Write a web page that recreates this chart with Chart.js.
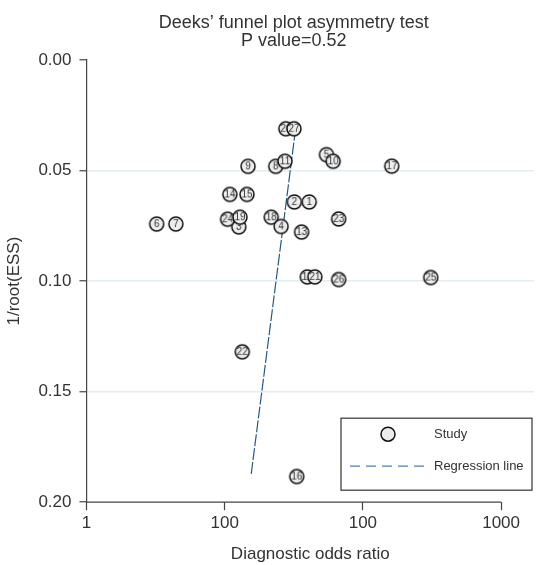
<!DOCTYPE html>
<html>
<head>
<meta charset="utf-8">
<script src="https://cdn.jsdelivr.net/npm/chart.js@4.4.1/dist/chart.umd.min.js"></script>
<style>
  html, body { margin:0; padding:0; background:#fff; }
  #wrap { width:555px; height:565px; }
</style>
</head>
<body>
<div id="wrap"><canvas id="funnel"></canvas></div>
<script>
/* ===== data (studies listed in drawing order) ===== */
const studyIds   = [1, 2, 3, 24, 18, 4, 5, 6, 7, 8, 9, 10, 11, 12, 13, 14, 15, 16, 17, 19, 20, 21, 22, 23, 25, 26, 27];
const dorValues  = [40.9, 31.9, 12.65, 10.5, 21.7, 25.6, 54.5, 3.22, 4.43, 23.4, 14.75, 60.9, 27.3, 39.6, 36.0, 10.9, 14.5, 33.2, 161.6, 12.9, 27.7, 44.9, 13.4, 66.8, 309.5, 66.8, 31.7];
const invRootEss = [0.0642, 0.0642, 0.0755, 0.0720, 0.0711, 0.0753, 0.0428, 0.0742, 0.0742, 0.0481, 0.0481, 0.0458, 0.0458, 0.0981, 0.0778, 0.0608, 0.0608, 0.1884, 0.0480, 0.0711, 0.0311, 0.0981, 0.1320, 0.0719, 0.0984, 0.0993, 0.0311];

// regression line end points
const regDor = [32.6, 15.5];
const regInvRootEss = [0.0311, 0.188];

// axis ticks (labels as printed on the original)
const xTickValues = [1, 10, 100, 1000];
const xTickLabels = ['1', '100', '100', '1000'];
const yTickValues = [0, 0.05, 0.10, 0.15, 0.20];

const titleLines = ["Deeks\u2019 funnel plot asymmetry test", 'P value=0.52'];

const FONT = '"Liberation Sans", Arial, Helvetica, sans-serif';
const TXT = '#333';
const AXIS = '#444';

// circle + number marker for each study
function makeMarker(id) {
  const c = document.createElement('canvas');
  c.width = 18; c.height = 18;
  const g = c.getContext('2d');
  g.beginPath(); g.arc(9, 9, 7, 0, Math.PI * 2);
  g.fillStyle = '#ededed'; g.fill();
  g.lineWidth = 1.5; g.strokeStyle = '#111'; g.stroke();
  g.fillStyle = TXT;
  g.font = '10px ' + FONT;
  g.textAlign = 'center'; g.textBaseline = 'middle';
  g.fillText(String(id), 9, 9.5);
  return c;
}
const markers = studyIds.map(makeMarker);

// title, x axis line and legend box
const decorPlugin = {
  id: 'decor',
  afterDraw(chart) {
    const { ctx, chartArea: a, scales } = chart;
    const x1 = scales.x.getPixelForValue(1), x2 = scales.x.getPixelForValue(1000);
    ctx.save();
    // x axis line only between 1 and 1000
    ctx.strokeStyle = AXIS; ctx.lineWidth = 1.2;
    ctx.beginPath(); ctx.moveTo(a.left, a.bottom); ctx.lineTo(x2, a.bottom); ctx.stroke();

    // title
    ctx.fillStyle = TXT; ctx.font = '18px ' + FONT;
    ctx.textAlign = 'center'; ctx.textBaseline = 'middle';
    ctx.fillText(titleLines[0], (x1 + x2) / 2, a.top - 37);
    ctx.fillText(titleLines[1], (x1 + x2) / 2, a.top - 19);

    // legend
    const bw = 191, bh = 72;
    const bx = a.right - 2 - bw, by = a.bottom - 12 - bh;
    ctx.fillStyle = '#fff'; ctx.fillRect(bx, by, bw, bh);
    ctx.strokeStyle = '#333'; ctx.lineWidth = 1.2; ctx.strokeRect(bx, by, bw, bh);
    ctx.beginPath(); ctx.arc(bx + 47, by + 16, 7, 0, Math.PI * 2);
    ctx.fillStyle = '#ececec'; ctx.fill();
    ctx.lineWidth = 1.5; ctx.strokeStyle = '#111'; ctx.stroke();
    ctx.setLineDash([10, 6]); ctx.strokeStyle = '#4a7db5'; ctx.lineWidth = 1.2;
    ctx.beginPath(); ctx.moveTo(bx + 9, by + 48); ctx.lineTo(bx + 87, by + 48); ctx.stroke();
    ctx.setLineDash([]);
    ctx.fillStyle = TXT; ctx.font = '13px ' + FONT; ctx.textAlign = 'left';
    ctx.fillText('Study', bx + 93, by + 16);
    ctx.fillText('Regression line', bx + 93, by + 48);
    ctx.restore();
  }
};

new Chart(document.getElementById('funnel'), {
  type: 'scatter',
  data: {
    datasets: [
      {
        label: 'Study',
        data: dorValues.map((v, i) => ({ x: v, y: invRootEss[i] })),
        pointStyle: ctx => markers[ctx.dataIndex],
        pointRadius: 7
      },
      {
        label: 'Regression line',
        data: regDor.map((v, i) => ({ x: v, y: regInvRootEss[i] })),
        showLine: true,
        borderColor: '#25578a',
        borderWidth: 1.2,
        borderDash: [12, 2],
        pointRadius: 0
      }
    ]
  },
  options: {
    responsive: true, maintainAspectRatio: false, animation: false, events: [],
    layout: { padding: { top: 60, right: 21, left: 4, bottom: 0 } },
    plugins: { legend: { display: false }, tooltip: { enabled: false } },
    scales: {
      x: {
        type: 'logarithmic', min: 1, max: 1730,
        afterBuildTicks: s => { s.ticks = xTickValues.map(v => ({ value: v })); },
        ticks: { autoSkip: false, maxRotation: 0, padding: 3, color: TXT, font: { size: 17, family: FONT },
                 callback: (v, i) => xTickLabels[i] },
        grid: { drawOnChartArea: false, tickLength: 8, tickColor: AXIS, tickWidth: 1.2 },
        border: { display: false },
        title: { display: true, text: 'Diagnostic odds ratio', color: TXT, font: { size: 17, family: FONT }, padding: { top: 8, bottom: 0 } }
      },
      y: {
        reverse: true, min: 0, max: 0.2,
        afterBuildTicks: s => { s.ticks = yTickValues.map(v => ({ value: v })); },
        ticks: { padding: 8, color: TXT, font: { size: 17, family: FONT }, callback: v => Number(v).toFixed(2) },
        grid: {
          color: c => (c.tick && (c.tick.value === 0 || c.tick.value === 0.2)) ? 'rgba(0,0,0,0)' : '#e2edf2',
          lineWidth: 1.5, tickLength: 7, tickColor: AXIS, tickWidth: 1.2
        },
        border: { color: AXIS, width: 1.2 },
        title: { display: true, text: '1/root(ESS)', color: TXT, font: { size: 17, family: FONT }, padding: { top: 0, bottom: 6 } }
      }
    }
  },
  plugins: [decorPlugin]
});
</script>
</body>
</html>
